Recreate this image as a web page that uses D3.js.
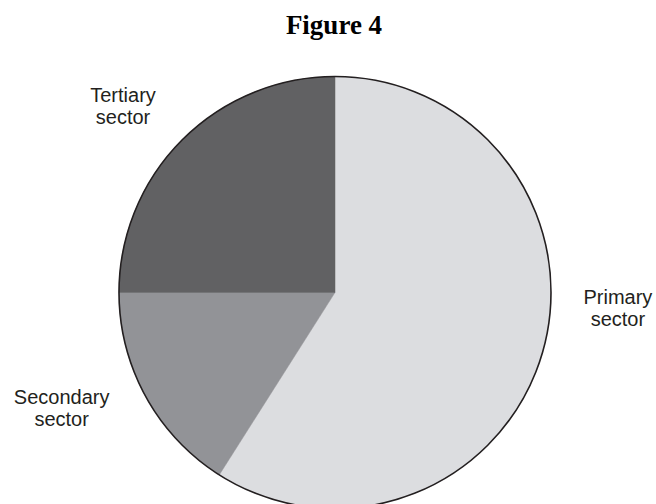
<!DOCTYPE html>
<html>
<head>
<meta charset="utf-8">
<script src="https://cdn.jsdelivr.net/npm/d3@7"></script>
<style>
  body { margin: 0; background: #fff; }
</style>
</head>
<body>
<div id="chart"></div>
<script>
// sector shares (percent)
const sectors = ["Primary", "Secondary", "Tertiary"];
const shares = [59, 16, 25];
const fills = ["#dcdde0", "#929397", "#616163"];
const labelLines = [["Primary", "sector"], ["Secondary", "sector"], ["Tertiary", "sector"]];

const width = 656, height = 504;
const cx = 335, cy = 292.5, radius = 216;

const svg = d3.select("#chart")
    .append("svg")
    .attr("width", width)
    .attr("height", height);

svg.append("text")
    .attr("x", 334)
    .attr("y", 34)
    .attr("text-anchor", "middle")
    .style("font-family", "'Liberation Serif', 'Times New Roman', serif")
    .style("font-weight", "bold")
    .style("font-size", "27px")
    .style("fill", "#000")
    .text("Figure 4");

const pie = d3.pie().sort(null).value(d => d);
const arc = d3.arc().innerRadius(0).outerRadius(radius);
const arcs = pie(shares);

const g = svg.append("g")
    .attr("transform", "translate(" + cx + "," + cy + ")");

g.selectAll("path.slice")
    .data(arcs)
    .enter()
    .append("path")
    .attr("class", "slice")
    .attr("d", arc)
    .style("fill", (d, i) => fills[i])
    .style("stroke", (d, i) => fills[i])
    .style("stroke-width", 0.5);

// outline round the whole circle
g.append("circle")
    .attr("r", radius)
    .style("fill", "none")
    .style("stroke", "#231f20")
    .style("stroke-width", 1.6);

// labels sit outside the pie, placed from each slice's mid angle then nudged
const labelArc = d3.arc().innerRadius(280).outerRadius(280);
const labelOffsets = [[14, -67], [-28, -23.5], [-14, 7.5]];

const labels = g.selectAll("text.label")
    .data(arcs)
    .enter()
    .append("text")
    .attr("class", "label")
    .attr("text-anchor", "middle")
    .style("font-family", "'Liberation Sans', Arial, sans-serif")
    .style("font-size", "20px")
    .style("fill", "#231f20")
    .attr("transform", (d, i) => {
        const c = labelArc.centroid(d);
        return "translate(" + (c[0] + labelOffsets[i][0]) + "," + (c[1] + labelOffsets[i][1]) + ")";
    });

labels.selectAll("tspan")
    .data((d, i) => labelLines[i])
    .enter()
    .append("tspan")
    .attr("x", 0)
    .attr("dy", (t, j) => j === 0 ? "0" : "1.1em")
    .text(t => t);
</script>
</body>
</html>
